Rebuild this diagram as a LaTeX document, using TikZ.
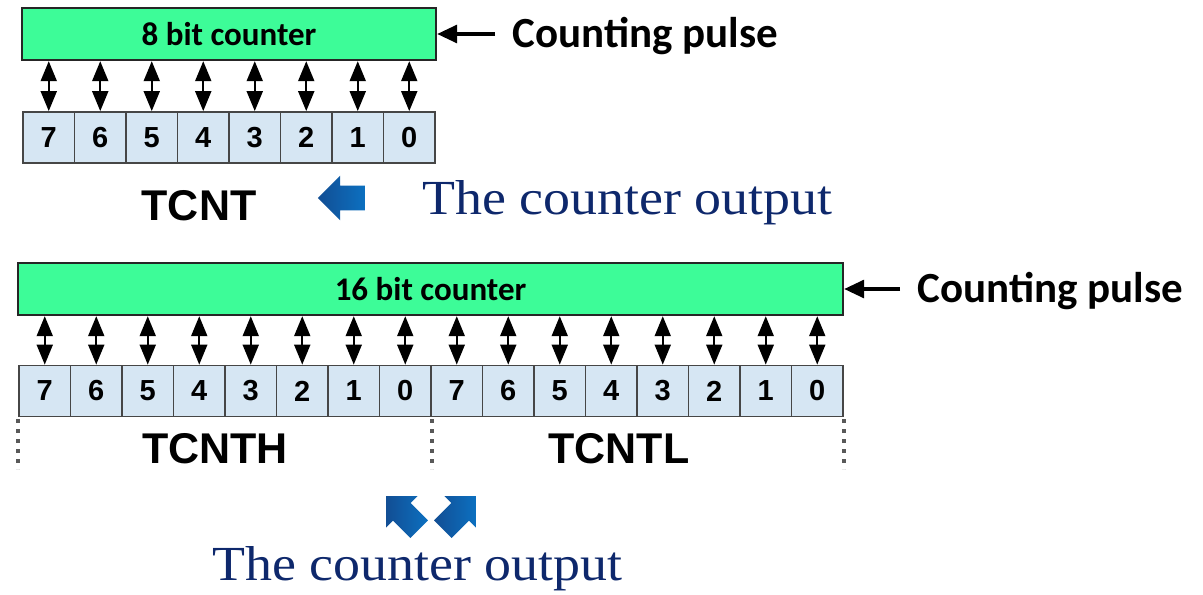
\documentclass[tikz,border=0pt]{standalone}
\usepackage{fontspec}
\usetikzlibrary{arrows.meta,shapes.arrows}
\newfontfamily\calfont{Carlito}
\newfontfamily\arialfont{Liberation Sans}
\newfontfamily\capfont[FakeStretch=1.1]{Liberation Serif}
\definecolor{countergreen}{RGB}{61,252,152}
\definecolor{cellblue}{RGB}{214,230,243}
\definecolor{cellline}{RGB}{70,70,70}
\definecolor{navytext}{RGB}{14,40,108}
\definecolor{arrowlight}{RGB}{12,112,192}
\definecolor{arrowdark}{RGB}{18,78,148}
\begin{document}
\begin{tikzpicture}[x=0.5pt,y=-0.5pt,
  counterbox/.style={draw=black!85, line width=1.2pt, fill=countergreen, inner sep=0pt,
    minimum height=26pt, font=\calfont\bfseries\fontsize{16.5}{19}\selectfont},
  bitcell/.style={draw=cellline, line width=0.9pt, fill=cellblue, minimum width=25.75pt,
    minimum height=25.5pt, inner sep=0pt, font=\arialfont\bfseries\fontsize{14.5}{17}\selectfont},
  bidir/.style={{Triangle[length=10pt,width=8pt]}-{Triangle[length=10pt,width=8pt]}, line width=1pt},
  pulsearrow/.style={-{Triangle[length=10pt,width=9pt]}, line width=1.6pt},
  pulselabel/.style={font=\calfont\bfseries\fontsize{21.5}{25}\selectfont, inner xsep=8.5pt, inner ysep=0pt, anchor=base west},
  reglabel/.style={font=\arialfont\bfseries\fontsize{21.5}{25}\selectfont, inner sep=0pt},
  outlabel/.style={font=\capfont\fontsize{24.5}{28}\selectfont, text=navytext, inner sep=0pt, anchor=base west},
  blockarrow/.style={single arrow, draw=none, left color=arrowdark, right color=arrowlight,
    minimum width=22pt, minimum height=23.5pt, single arrow head extend=5pt,
    inner xsep=0pt, inner ysep=6pt, text height=0pt, text depth=0pt},
  dotline/.style={line width=2pt, dash pattern=on 2pt off 3pt, black!65}
]
\fill[white] (0,0) rectangle (1203,594);
\useasboundingbox (0,0) rectangle (1203,594);

% ---- 8 bit counter and TCNT ----
\node[counterbox, minimum width=207pt] (c8) at (229,34) {8 bit counter};
\foreach \i in {0,...,7} {
  \pgfmathtruncatemacro\bit{7-\i}
  \node[bitcell] (t\i) at ({48.75+51.5*\i},137.5) {\bit};
  \draw[bidir] (t\i.north) -- (t\i.north |- c8.south);
}
\node[pulselabel] (p8) at (495,47) {Counting pulse};
\draw[pulsearrow] (c8.east -| p8.west) -- (c8.east);
\node[reglabel] (tcnt) at (199,206) {TCNT};
\node[blockarrow, rotate=180] (a8) at (347.5,198) {};
\node[outlabel] (o8) at (422,214) {The counter output};

% ---- 16 bit counter, TCNTH and TCNTL ----
\node[counterbox, minimum width=412.5pt] (c16) at (430.5,289) {16 bit counter};
\foreach \i in {0,...,15} {
  \pgfmathtruncatemacro\bit{7-mod(\i,8)}
  \node[bitcell] (b\i) at ({44.75+51.5*\i},391) {\bit};
  \draw[bidir] (b\i.north) -- (b\i.north |- c16.south);
}
\node[pulselabel] (p16) at (900,302) {Counting pulse};
\draw[pulsearrow] (c16.east -| p16.west) -- (c16.east);
\draw[dotline] ([yshift=-1pt]b0.south west) -- ++(0,50);
\draw[dotline] ([yshift=-1pt]b7.south east) -- ++(0,50);
\draw[dotline] ([yshift=-1pt]b15.south east) -- ++(0,50);
\node[reglabel] (tcnth) at (215,449) {TCNTH};
\node[reglabel] (tcntl) at (619,449) {TCNTL};
\node[blockarrow, rotate=135] (a16l) at (407,517) {};
\node[blockarrow, rotate=45] (a16r) at (455,517) {};
\node[outlabel] (o16) at (212,580) {The counter output};
\end{tikzpicture}
\end{document}
